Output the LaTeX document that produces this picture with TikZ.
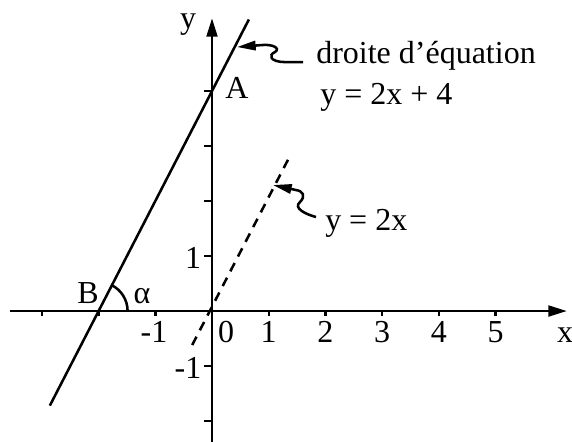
\documentclass[tikz,border=0pt]{standalone}
\usepackage{fontspec}
\setmainfont{Liberation Serif}
\usetikzlibrary{arrows.meta}
\begin{document}
\begin{tikzpicture}[x=42.525pt,y=41.25pt,
  every node/.style={font=\fontsize{24}{28}\selectfont, inner sep=0pt},
  axis/.style={line width=2.2pt,-{Triangle[length=14pt,width=8pt]}},
  graph/.style={line width=1.9pt},
  dashgraph/.style={line width=1.9pt,dash pattern=on 7pt off 5.45pt},
  tickmark/.style={line width=1.8pt},
  note/.style={line width=1.9pt,-{Triangle[length=14pt,width=7pt]}},
  lbl/.style={anchor=base}]
\useasboundingbox (-3.739,-2.364) rectangle (6.349,5.655);
% axes
\coordinate (xs) at (-3.563,0);
\coordinate (xe) at (6.261,0);
\coordinate (ys) at (0,-2.4);
\coordinate (ye) at (0,5.327);
\draw[axis] (xs) -- (xe);
\draw[axis] (ys) -- (ye);
\foreach \i in {-3,-2,-1,1,2,3,4,5} \draw[tickmark] (\i,0) -- ++(0,-3.5pt);
\foreach \j in {-2,-1,1,2,3,4} \draw[tickmark] (0,\j) -- ++(-6pt,0);
% axis labels
\node[lbl] (lx) at (6.226,-0.564) {x};
\node[lbl] (ly) at (-0.423,5.145) {y};
\node[lbl] (tm1) at (-1.023,-0.564) {-1};
\node[lbl] (t0) at (0.25,-0.564) {0};
\foreach \i in {1,2,3,4,5} \node[lbl] (t\i) at (\i,-0.564) {\i};
\node[lbl] (ty1) at (-0.335,0.782) {1};
\node[lbl] (tym1) at (-0.423,-1.218) {-1};
% line y = 2x + 4
\coordinate (L1) at (-2.86,-1.72);
\coordinate (L2) at (0.65,5.3);
\coordinate (B) at (-2,0);
\coordinate (A) at (0,4);
\draw[graph] (L1) -- (L2);
% dashed line y = 2x
\coordinate (D1) at (-0.35,-0.62);
\coordinate (D2) at (1.34,2.75);
\draw[dashgraph] (D2) -- (D1);
% angle
\draw[graph] ([shift={(0:21.75pt)}]B) arc[start angle=0,end angle=62.7,radius=21.75pt];
\node[lbl] (nB) at (-2.187,0.145) {B};
\node[lbl] (nal) at (-1.235,0.145) {α};
\node[lbl] (nA) at (0.441,3.873) {A};
% annotations
\node[anchor=base west] (t1a) at (1.834,4.509) {droite d’équation};
\node[anchor=base west] (t1b) at (1.905,3.764) {y = 2x + 4};
\node[anchor=base west] (t2) at (1.993,1.473) {y = 2x};
\coordinate (a1s) at (1.605,4.527);
\coordinate (a1t) at (0.441,4.8);
\draw[note] (a1s) -- (1.287,4.527) .. controls (1.023,4.527) and (0.988,4.655) .. (1.111,4.709) .. controls (1.217,4.782) and (1.058,4.855) .. (0.882,4.836) -- (a1t);
\coordinate (a2s) at (1.834,1.709);
\coordinate (a2t) at (1.076,2.291);
\draw[note] (a2s) .. controls (1.640,1.764) and (1.429,1.873) .. (1.552,1.982) .. controls (1.658,2.091) and (1.605,2.182) .. (1.481,2.2) -- (a2t);
\end{tikzpicture}
\end{document}
